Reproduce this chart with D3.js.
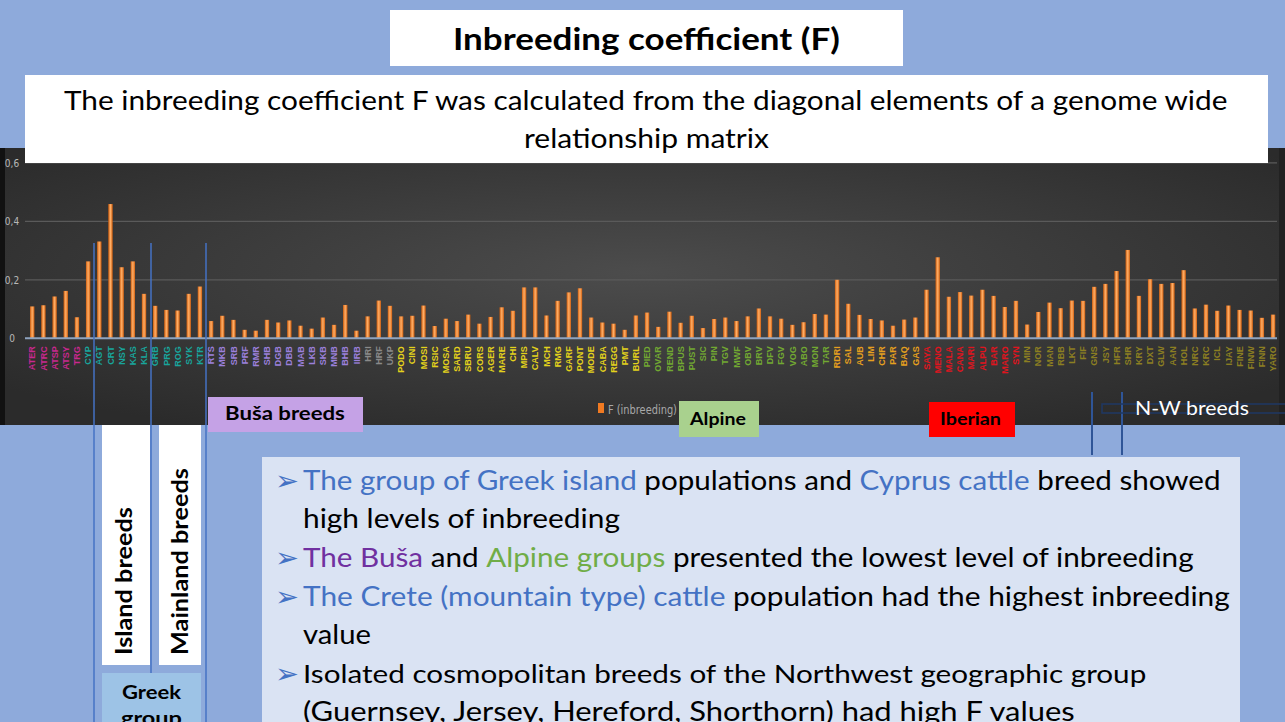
<!DOCTYPE html>
<html><head><meta charset="utf-8">
<script src="https://cdn.jsdelivr.net/npm/d3@7/dist/d3.min.js"></script>
<style>body{margin:0;background:#8eaadb;}svg{display:block;}</style>
</head><body>
<svg id="s" width="1285" height="722"></svg>
<script>
// ---------- DATA ----------
const categories = ["ATER","ATRC","ATSP","ATSY","TRG",
 "CYP","AGT","CRT","NSY","KAS","KLA","GRB","PRG","ROG","SYK","KTR",
 "RTS","MKB","SRB","PRF","RMR","SHB","DGB","DBB","MAB","LKB","SKB","MNB","BHB","IIRB",
 "HRI","HRF","UKP",
 "PODO","CINI","MOSI","RSIC","MOSA","SARD","SBRU","CORS","AGER","MARE","CHI","MPIS","CALV","MCH","RMG","GARF","PONT","MODE","CABA","REGG","PMT","BURL",
 "PIED","OVAR","REND","BPUS","PUST","SIC","PIN","TGV","MWF","OBV","BRV","DFV","FGV","VOG","ABO","MON","TAR",
 "RDRI","SAL","AUB","LIM","CHR","PAR","BAQ","GAS",
 "SAYA","MENO","MALA","CANA","MARI","ALPU","BAR","MARO","SYN",
 "MIN","NOR","MAN","RBB","LKT","FIF","GNS","JSY","HFR","SHR","KRY","DXT","GLW","AAN","HOL","NRC","KRC","ICL","IJAY","FINE","FINW","FINN","YARO"];
const values = [0.109,0.113,0.143,0.162,0.072,
 0.263,0.331,0.459,0.243,0.263,0.152,0.111,0.097,0.095,0.152,0.177,
 0.059,0.077,0.063,0.029,0.026,0.063,0.054,0.061,0.043,0.033,0.071,0.046,0.114,0.026,
 0.075,0.129,0.111,
 0.075,0.077,0.112,0.042,0.067,0.059,0.081,0.050,0.073,0.106,0.094,0.174,0.174,0.078,0.128,0.157,0.171,0.071,0.054,0.050,0.029,0.078,
 0.088,0.039,0.091,0.053,0.077,0.035,0.066,0.071,0.059,0.075,0.102,0.075,0.067,0.046,0.055,0.083,0.081,
 0.200,0.118,0.080,0.066,0.061,0.043,0.064,0.071,
 0.166,0.277,0.142,0.158,0.146,0.166,0.145,0.107,0.128,
 0.047,0.090,0.122,0.103,0.129,0.128,0.176,0.186,0.230,0.302,0.145,0.202,0.186,0.189,0.233,0.102,0.115,0.094,0.112,0.097,0.095,0.070,0.081];
const groupNames = ["Anatolian","Greek","Busa","Balkan","Italian","Alpine","French","Iberian","NorthWest"];
const groupSizes = [5,11,14,3,22,17,8,9,23];
const yTicks = [0,0.2,0.4,0.6];
const yTickLabels = ["0","0,2","0,4","0,6"];
const seriesName = "F (inbreeding)";

// ---------- STYLE ----------
const groupColor = {Anatolian:"#c8288e",Greek:"#18a59c",Busa:"#9b80dc",Balkan:"#8a8a8a",Italian:"#e3d21c",
  Alpine:"#72a832",French:"#e6a01e",Iberian:"#e0141e",NorthWest:"#8c7f22"};
const catGroup = [];
groupNames.forEach((g,i)=>{for(let k=0;k<groupSizes[i];k++)catGroup.push(g);});

const svg = d3.select("#s");
const defs = svg.append("defs");
const rg = defs.append("radialGradient").attr("id","bg").attr("cx","50%").attr("cy","45%").attr("r","65%");
rg.append("stop").attr("offset","0%").attr("stop-color","#4c4c4c");
rg.append("stop").attr("offset","100%").attr("stop-color","#2b2b2b");
const bg = defs.append("linearGradient").attr("id","barg").attr("x1","0").attr("x2","1").attr("y1","0").attr("y2","0");
bg.append("stop").attr("offset","0%").attr("stop-color","#d2600f");
bg.append("stop").attr("offset","50%").attr("stop-color","#ffae66");
bg.append("stop").attr("offset","100%").attr("stop-color","#d2600f");

// helper: fit text width by horizontal scaling
function fitText(g, txt, target){
  const w = txt.node().getComputedTextLength();
  const s = target / w;
  const t = g.attr("transform") || "";
  g.attr("transform", t + ` scale(${s},1)`);
}
function addText(x0,yb,target,parts,opts){
  const g = svg.append("g").attr("transform",`translate(${x0},${yb})`);
  const t = g.append("text").attr("x",0).attr("y",0).attr("font-family",opts.font||"Lato, sans-serif")
    .attr("font-size",opts.size).attr("font-weight",opts.weight||"normal");
  parts.forEach(p=>t.append("tspan").attr("fill",p[1]||opts.color||"#000").text(p[0]));
  fitText(g,t,target);
  return g;
}

// slide background
svg.append("rect").attr("width",1285).attr("height",722).attr("fill","#8eaadb");

// chart panel
svg.append("rect").attr("x",0).attr("y",148).attr("width",1283).attr("height",277).attr("fill","url(#bg)");
svg.append("rect").attr("x",0).attr("y",148).attr("width",5).attr("height",277).attr("fill","#111");
svg.append("rect").attr("x",1279).attr("y",148).attr("width",6).attr("height",277).attr("fill","#222");

const x = d3.scaleBand().domain(categories).range([26.7,1278.6]).paddingInner(0.61).paddingOuter(0.3);
const y = d3.scaleLinear().domain([0,0.6]).range([338.3,162.8]);

// gridlines
svg.append("g").selectAll("line").data(yTicks.slice(1)).join("line")
  .attr("x1",25).attr("x2",1277).attr("y1",d=>y(d)).attr("y2",d=>y(d))
  .attr("stroke","#5a5a5a").attr("stroke-width",1.2);

// y axis labels
const yAxis = d3.axisLeft(y).tickValues(yTicks).tickSize(0).tickFormat((d,i)=>yTickLabels[i]);
const ya = svg.append("g").attr("transform","translate(20,0)").call(yAxis);
ya.select(".domain").remove();
ya.selectAll("text").attr("fill","#b8b8b8").attr("font-family","Liberation Sans Narrow, DejaVu Sans Condensed, sans-serif")
  .attr("font-size",10).attr("x",-8).attr("text-anchor","middle");

// bars
svg.append("g").selectAll("rect").data(values).join("rect")
  .attr("x",(d,i)=>x(categories[i])).attr("width",x.bandwidth())
  .attr("y",d=>y(d)).attr("height",d=>y(0)-y(d)).attr("fill","url(#barg)");

// baseline
svg.append("line").attr("x1",25).attr("x2",1277).attr("y1",y(0)).attr("y2",y(0)).attr("stroke","#8ea3bf").attr("stroke-width",2);

// x axis labels
const xAxis = d3.axisBottom(x).tickSize(0);
const xa = svg.append("g").attr("transform",`translate(0,${y(0)})`).call(xAxis);
xa.select(".domain").remove();
xa.selectAll("text").attr("transform","rotate(-90)").attr("x",-8).attr("y",0).attr("dy","0.35em")
  .attr("text-anchor","end").attr("font-family","Liberation Sans, Arial, sans-serif").attr("font-weight","bold").attr("font-size",9)
  .attr("fill",(d,i)=>groupColor[catGroup[i]]);

// legend
svg.append("rect").attr("x",598).attr("y",403).attr("width",6).attr("height",10).attr("fill","#f07a22");
addText(608,414,69,[[seriesName]],{size:13,color:"#a8a8a8",font:"Liberation Sans Narrow, DejaVu Sans Condensed, sans-serif"});

// title boxes
svg.append("rect").attr("x",390).attr("y",10).attr("width",513).attr("height",56).attr("fill","#fff");
addText(453,50,387,[["Inbreeding coefficient (F)"]],{size:30,weight:"bold"});
svg.append("rect").attr("x",25).attr("y",75).attr("width",1243).attr("height",88).attr("fill","#fff");
addText(64,110,1164,[["The inbreeding coefficient F was calculated from the diagonal elements of a genome wide"]],{size:26});
addText(524,148,245,[["relationship matrix"]],{size:26});

// vertical blue lines
[94,151,206].forEach(xx=>svg.append("line").attr("x1",xx).attr("x2",xx).attr("y1",243).attr("y2",722).attr("stroke","#4472c4").attr("stroke-width",1.5));

// group boxes
svg.append("rect").attr("x",208).attr("y",397).attr("width",155).attr("height",35).attr("fill","#c5a2e6");
addText(225,420,120,[["Buša breeds"]],{size:18,weight:"bold"});
svg.append("rect").attr("x",679).attr("y",401).attr("width",80).attr("height",36).attr("fill","#a9d18e");
addText(690,425,56,[["Alpine"]],{size:17,weight:"bold"});
svg.append("rect").attr("x",929).attr("y",402).attr("width",86).attr("height",35).attr("fill","#ff0000");
addText(940,425,61,[["Iberian"]],{size:17,weight:"bold"});

// N-W breeds
[1092,1122].forEach(xx=>svg.append("line").attr("x1",xx).attr("x2",xx).attr("y1",392).attr("y2",455).attr("stroke","#2f5597").attr("stroke-width",2));
svg.append("rect").attr("x",1102).attr("y",404).attr("width",185).attr("height",9).attr("fill","none").attr("stroke","#1f3864").attr("stroke-width",1.5);
addText(1135,415,114,[["N-W breeds"]],{size:19,color:"#ffffff"});

// Island / Mainland boxes
svg.append("rect").attr("x",102).attr("y",425).attr("width",48).attr("height",240).attr("fill","#fff");
svg.append("rect").attr("x",159).attr("y",425).attr("width",42).attr("height",240).attr("fill","#fff");
function vText(cx,ystart,len,str){
  const g = svg.append("g").attr("transform",`translate(${cx+8},${ystart}) rotate(-90)`);
  const t = g.append("text").attr("font-family","Lato, sans-serif").attr("font-weight","bold").attr("font-size",22).attr("fill","#000").text(str);
  fitText(g,t,len);
}
vText(124,655,148,"Island breeds");
vText(180,655,187,"Mainland breeds");

// Greek group box
svg.append("rect").attr("x",102).attr("y",673).attr("width",99).attr("height",60).attr("fill","#9dc3e6");
addText(122,699,59,[["Greek"]],{size:19,weight:"bold"});
addText(121,725,61,[["group"]],{size:19,weight:"bold"});

// main text box
svg.append("rect").attr("x",262).attr("y",457).attr("width",978).attr("height",270).attr("fill","#dae3f3");
const blue="#4472c4", purple="#7030a0", green="#70ad47";
const arrowsY=[481,558,597,674];
arrowsY.forEach(cy=>addText(275,cy+9,24,[["➢"]],{size:27,color:blue,font:"DejaVu Sans, sans-serif"}));
addText(303,490,918,[["The group of Greek island",blue],[" populations and "],["Cyprus cattle",blue],[" breed showed"]],{size:26});
addText(303,528,317,[["high levels of inbreeding"]],{size:26});
addText(303,567,890,[["The Buša",purple],[" and "],["Alpine groups",green],[" presented the lowest level of inbreeding"]],{size:26});
addText(303,606,927,[["The Crete (mountain type) cattle",blue],[" population had the highest inbreeding"]],{size:26});
addText(303,644,68,[["value"]],{size:26});
addText(303,683,844,[["Isolated cosmopolitan breeds of the Northwest geographic group"]],{size:26});
addText(303,721,772,[["(Guernsey, Jersey, Hereford, Shorthorn) had high F values"]],{size:26});
</script>
</body></html>
